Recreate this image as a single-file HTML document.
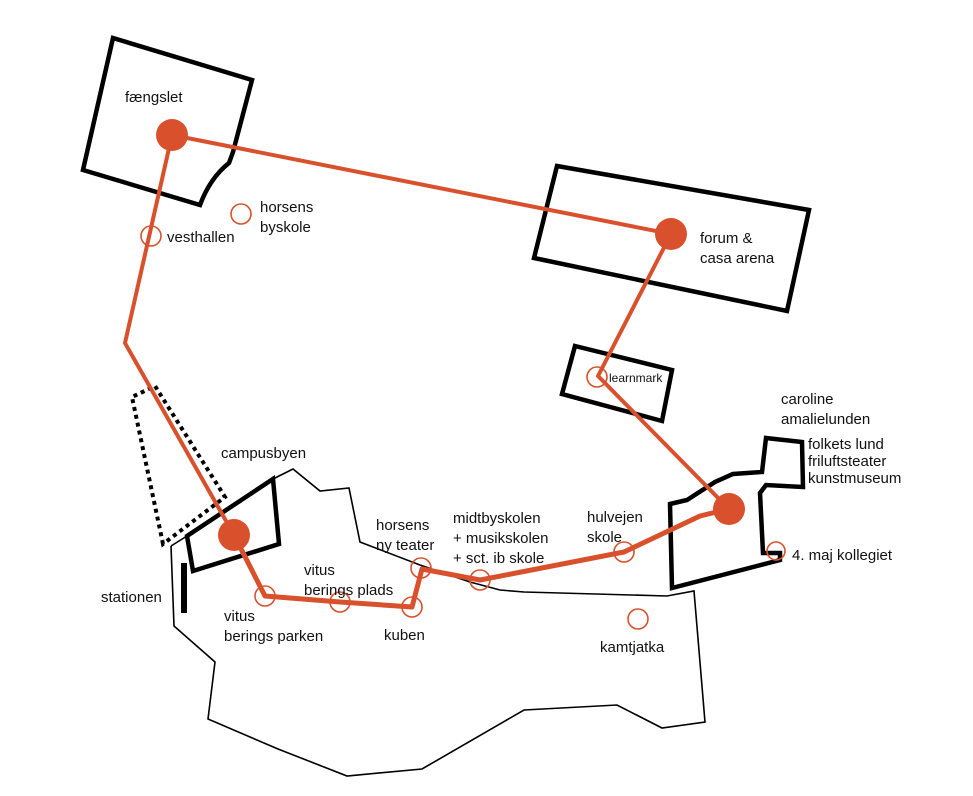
<!DOCTYPE html>
<html><head><meta charset="utf-8"><style>
html,body{margin:0;padding:0;background:#fff;}
svg{display:block;}
text{font-family:"Liberation Sans",sans-serif;font-size:15px;fill:#111;}
</style></head><body>
<svg width="973" height="796" viewBox="0 0 973 796" xmlns="http://www.w3.org/2000/svg">
<polyline points="171,546 174,626 215,662 208,719 278,749 347,776 422,769 524,710 617,705 662,728 705,722 694,591 667,596 524,592 500,590 470,582 420,565 360,542 349,488 320,491 293,469 273,479" fill="none" stroke="#000" stroke-width="1.6"/>
<line x1="171" y1="546" x2="187" y2="536" stroke="#000" stroke-width="1.6"/>
<polygon points="163,544 132,397 155,386 225,497" fill="none" stroke="#000" stroke-width="4" stroke-dasharray="4,4"/>
<path d="M113,38 L252,80 L233,152 L229,163 Q210,178 200,205 L83,170 Z" fill="none" stroke="#000" stroke-width="4.5"/>
<polygon points="557,166 809,210 787,311 534,258" fill="none" stroke="#000" stroke-width="4.5"/>
<polygon points="575,346 672,370 662,421 562,394" fill="none" stroke="#000" stroke-width="4.5"/>
<polygon points="187,536 273,479 279,544 193,571" fill="none" stroke="#000" stroke-width="4.5"/>
<polygon points="670,504 687,500 715,482 733,474 762,472 766,438 802,442 803,487 766,485 760,493 763,553 780,553 780,560 672,588" fill="none" stroke="#000" stroke-width="4.5"/>
<rect x="181" y="563" width="6" height="50" fill="#000"/>
<g fill="none" stroke="#d9512c" stroke-linejoin="round">
<polyline points="172,135 671,234 598,376 729,509" stroke-width="4"/>
<polyline points="172,135 125,343 234,535" stroke-width="4"/>
<polyline points="234,535 265,596 340,602 412,607 422,569 480,580 624,552 700,516 729,509" stroke-width="5"/>
</g>
<g fill="#d9512c">
<circle cx="172" cy="135" r="16"/>
<circle cx="671" cy="234" r="16"/>
<circle cx="729" cy="509" r="16"/>
<circle cx="234" cy="535" r="16"/>
</g>
<g fill="none" stroke="#d9512c" stroke-width="1.6">
<circle cx="151" cy="236" r="10"/>
<circle cx="241" cy="214" r="10"/>
<circle cx="597" cy="377" r="10"/>
<circle cx="776" cy="551" r="9"/>
<circle cx="624" cy="552" r="10"/>
<circle cx="480" cy="580" r="10"/>
<circle cx="421" cy="568" r="10"/>
<circle cx="412" cy="607" r="10"/>
<circle cx="340" cy="602" r="10"/>
<circle cx="265" cy="596" r="10"/>
<circle cx="638" cy="619" r="10"/>
</g>
<text x="125" y="102">fængslet</text>
<text x="167" y="242">vesthallen</text>
<text x="260" y="212">horsens</text>
<text x="260" y="232">byskole</text>
<text x="700" y="243">forum &amp;</text>
<text x="700" y="263">casa arena</text>
<text x="609" y="382" style="font-size:12px">learnmark</text>
<text x="781" y="404">caroline</text>
<text x="781" y="424">amalielunden</text>
<text x="808" y="449">folkets lund</text>
<text x="808" y="466">friluftsteater</text>
<text x="808" y="483">kunstmuseum</text>
<text x="792" y="560">4. maj kollegiet</text>
<text x="587" y="522">hulvejen</text>
<text x="587" y="542">skole</text>
<text x="453" y="523">midtbyskolen</text>
<text x="453" y="543">+ musikskolen</text>
<text x="453" y="563">+ sct. ib skole</text>
<text x="376" y="530">horsens</text>
<text x="376" y="550">ny teater</text>
<text x="304" y="575">vitus</text>
<text x="304" y="595">berings plads</text>
<text x="224" y="621">vitus</text>
<text x="224" y="641">berings parken</text>
<text x="384" y="640">kuben</text>
<text x="600" y="652">kamtjatka</text>
<text x="221" y="458">campusbyen</text>
<text x="101" y="602">stationen</text>
</svg>
</body></html>
